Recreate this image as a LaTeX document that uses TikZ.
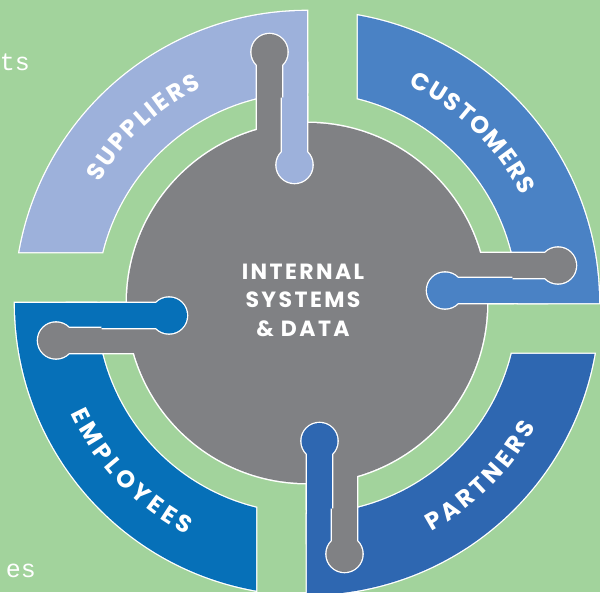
\documentclass[tikz,border=0pt]{standalone}
\usepackage{fontspec}
\usetikzlibrary{decorations.text}
\newfontfamily\labelfont{Poppins}
\newfontfamily\codefont{Liberation Mono}
\newcommand\bandfont{\labelfont\bfseries\fontsize{24}{28}\selectfont\color{white}}
\tikzset{
  rim/.style={draw=white,line width=2.6pt},
  bandring/.style={insert path={(90:211pt) -- (90:292pt)
      arc[start angle=90,end angle={180-asin(51/292)},radius=292pt]
      -- ({180-asin(51/211)}:211pt)
      arc[start angle={180-asin(51/211)},end angle=90,radius=211pt] -- cycle}},
  mono/.style={font=\codefont\fontsize{25}{30}\selectfont,text=white,inner sep=0pt},
  bandtext/.style={decorate,decoration={text along path,text align={fit to path},text={|\bandfont|#1}}}
}

\begin{document}
\begin{tikzpicture}[x=1pt,y=1pt]
                \definecolor{bg}{HTML}{A2D39C}
                \definecolor{sup}{HTML}{9DB1DB}
                \definecolor{cus}{HTML}{4A82C5}
                \definecolor{par}{HTML}{2E67B1}
                \definecolor{emp}{HTML}{0670B8}
                \definecolor{core}{HTML}{808184}

                \useasboundingbox (-307,-289) rectangle (293,303);
                \clip (-307,-289) rectangle (293,303);
                \fill [bg] (-307,-289) rectangle (293,303);

                \foreach \a/\c in {0/sup,-90/cus,-180/par,-270/emp} {
                    \begin{scope}[rotate=\a]
                        \draw [rim,bandring];
                        \draw [rim] (-25,138) rectangle (0,240)
                            (-12.5,138) circle [radius=18pt];
                        \fill [\c,bandring];
                        \fill [\c] (-25,138) rectangle (0,240);
                        \fill [\c] (-12.5,138) circle [radius=18pt];
                    \end{scope}
                }

                \draw [rim,line width=3pt] (0,0) circle [radius=180pt];
                \foreach \a in {0,-90,-180,-270}
                    \draw [rim,rotate=\a] (-50,150) rectangle (-25,251)
                        (-37.5,251) circle [radius=18pt];
                \fill [core] (0,0) circle [radius=180pt];
                \foreach \a in {0,-90,-180,-270} {
                    \fill [core,rotate=\a] (-50,150) rectangle (-25,251);
                    \fill [core,rotate=\a] (-37.5,251) circle [radius=18pt];
                }

                \begin{scope}
                    \clip (0,0) circle [radius=207pt];
                    \foreach \a/\c in {0/sup,-90/cus,-180/par,-270/emp} {
                        \draw [rim,rotate=\a] (-25,138) rectangle (0,240)
                            (-12.5,138) circle [radius=18pt];
                        \fill [\c,rotate=\a] (-25,138) rectangle (0,240);
                        \fill [\c,rotate=\a] (-12.5,138) circle [radius=18pt];
                    }
                \end{scope}

                \path [bandtext=SUPPLIERS] (150:240pt)
                    arc [start angle=150,end angle=116,radius=240pt];
                \path [bandtext=CUSTOMERS] (65:240pt)
                    arc [start angle=65,end angle=26.5,radius=240pt];
                \path [bandtext=PARTNERS] (-61.5:260pt)
                    arc [start angle=-61.5,end angle=-28.5,radius=260pt];
                \path [bandtext=EMPLOYEES] (205:261pt)
                    arc [start angle=205,end angle=242.5,radius=261pt];

                \node [align=center,text=white,inner sep=0pt,
                    font=\labelfont\bfseries\fontsize{22}{28.5}\selectfont\addfontfeatures{LetterSpace=11}]
                    (hub) at (-4,3) {INTERNAL\\SYSTEMS\\\&~DATA};

                \node [mono,anchor=base east] (ts) at (-277,232) {ts};
                \node [mono,anchor=base east] (es) at (-271,-274) {es};
            \end{tikzpicture}
\end{document}
